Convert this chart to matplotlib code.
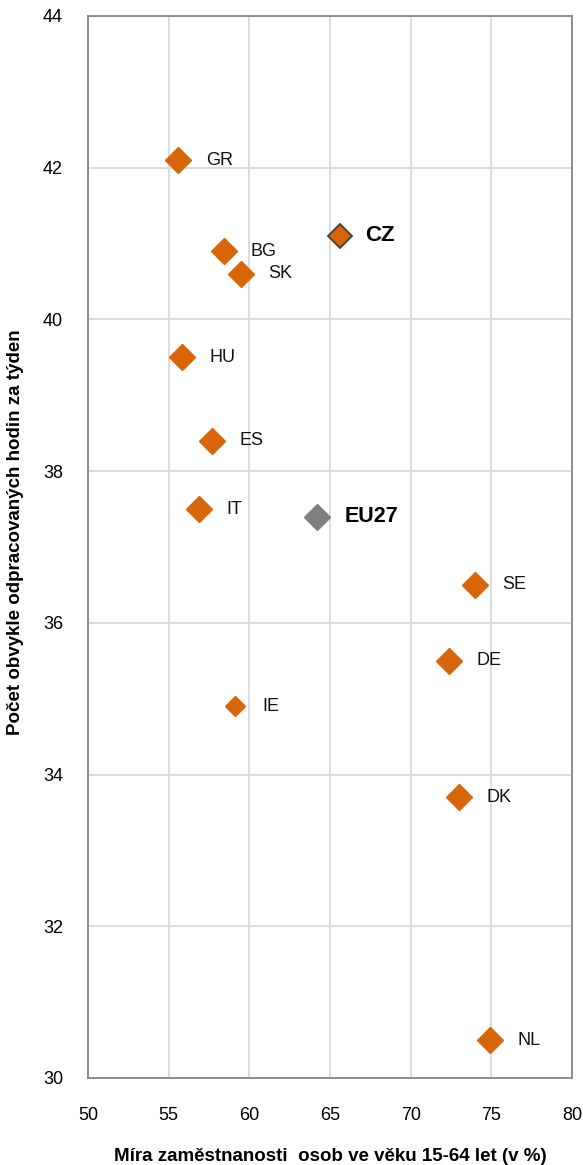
import matplotlib.pyplot as plt

plt.rcParams['font.family'] = ['Liberation Sans', 'DejaVu Sans']

countries = ["GR", "BG", "SK", "HU", "ES", "IT", "SE", "DE", "IE", "DK", "NL"]
employment = [55.6, 58.4, 59.5, 55.8, 57.7, 56.9, 74.0, 72.4, 59.1, 73.0, 74.9]
hours = [42.1, 40.9, 40.6, 39.5, 38.4, 37.5, 36.5, 35.5, 34.9, 33.7, 30.5]

cz_x, cz_y = 65.6, 41.1
eu_x, eu_y = 64.2, 37.4

orange = "#D9650A"

fig = plt.figure(figsize=(5.83, 11.65), dpi=100)
ax = fig.add_axes([0.151, 0.0747, 0.830, 0.9116])

for c, x, y in zip(countries, employment, hours):
    size = 10 if c == "IE" else 13
    ax.plot(x, y, marker="D", ms=size, color=orange, mec=orange, ls="none", zorder=3)
    ax.text(x + 1.7, y, c, fontsize=13, va="center", ha="left", color="#111111")

ax.plot(cz_x, cz_y, marker="D", ms=12, color=orange, mec="#404040", mew=1.3, ls="none", zorder=3)
ax.text(cz_x + 1.6, cz_y, "CZ", fontsize=16, fontweight="bold", va="center", ha="left")
ax.plot(eu_x, eu_y, marker="D", ms=13, color="#7F7F7F", mec="#7F7F7F", ls="none", zorder=3)
ax.text(eu_x + 1.7, eu_y, "EU27", fontsize=15.5, fontweight="bold", va="center", ha="left")

ax.set_xlim(50, 80)
ax.set_ylim(30, 44)
ax.set_xticks(range(50, 81, 5))
ax.set_yticks(range(30, 45, 2))
ax.grid(True, color="#D9D9D9", lw=1.3)
ax.set_axisbelow(True)
for s in ax.spines.values():
    s.set_color("#868686")
    s.set_linewidth(1.3)
ax.tick_params(length=0, labelsize=13, pad=18)
ax.tick_params(axis="x", pad=21)

ax.set_xlabel("Míra zaměstnanosti  osob ve věku 15-64 let (v %)", fontsize=13.5,
              fontweight="bold", va="center")
ax.set_ylabel("Počet obvykle odpracovaných hodin za týden", fontsize=13.5,
              fontweight="bold", va="center")
ax.xaxis.set_label_coords(0.5, -0.074)
ax.yaxis.set_label_coords(-0.149, 0.514)

fig.savefig("out.png", dpi=100)
